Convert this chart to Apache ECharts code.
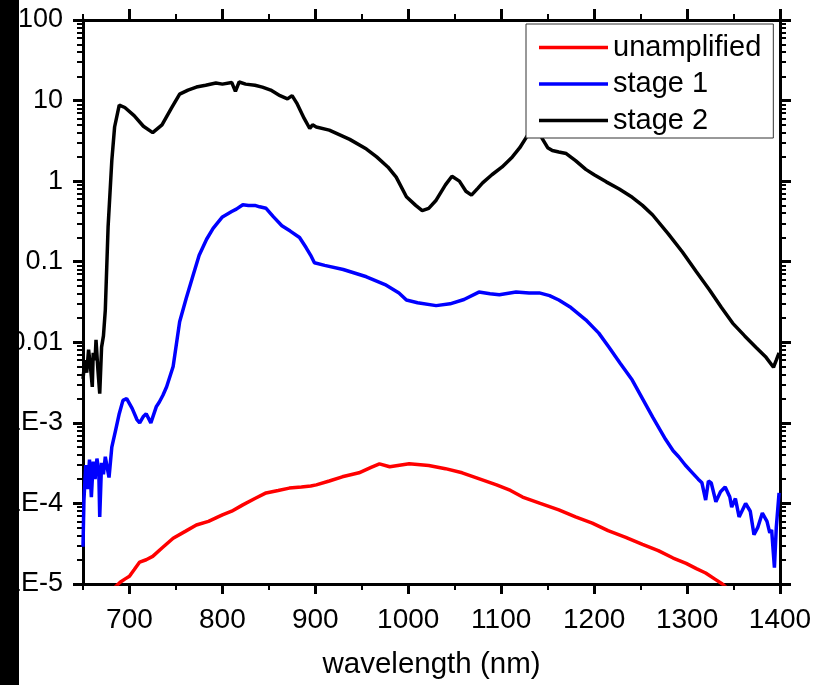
<!DOCTYPE html>
<html>
<head>
<meta charset="utf-8">
<script src="https://cdn.jsdelivr.net/npm/echarts@6/dist/echarts.min.js"></script>
<style>
html,body{margin:0;padding:0;background:#fff;}
#chart{width:831px;height:685px;}
</style>
</head>
<body>
<div id="chart"></div>
<script>
// ---- Data ----
const seriesNames = ['unamplified', 'stage 1', 'stage 2'];

const unampWl  = [684, 690, 695, 700, 705, 711, 718, 725, 735, 747, 760, 772, 785, 800, 810, 822, 835, 847, 860, 872, 885, 895, 901, 915, 929, 947, 960, 969, 980, 1001, 1022, 1040, 1058, 1075, 1095, 1110, 1123, 1142, 1162, 1180, 1198, 1215, 1234, 1252, 1269, 1285, 1299, 1310, 1320, 1330, 1338, 1345];
const unampVal = [9e-6, 1.05e-5, 1.15e-5, 1.25e-5, 1.5e-5, 1.87e-5, 2.0e-5, 2.2e-5, 2.8e-5, 3.7e-5, 4.5e-5, 5.4e-5, 6.0e-5, 7.2e-5, 8.0e-5, 9.6e-5, 1.15e-4, 1.35e-4, 1.45e-4, 1.55e-4, 1.6e-4, 1.65e-4, 1.7e-4, 1.9e-4, 2.14e-4, 2.4e-4, 2.8e-4, 3.1e-4, 2.85e-4, 3.1e-4, 2.95e-4, 2.7e-4, 2.4e-4, 2.05e-4, 1.7e-4, 1.45e-4, 1.2e-4, 1.0e-4, 8.3e-5, 6.8e-5, 5.7e-5, 4.6e-5, 3.8e-5, 3.1e-5, 2.6e-5, 2.1e-5, 1.8e-5, 1.55e-5, 1.37e-5, 1.15e-5, 1.0e-5, 8.5e-6];

const stage1Wl  = [650, 651, 653, 655, 657, 659, 661, 663, 665, 667, 668, 670, 672, 674, 676, 678, 681, 685, 689, 693, 697, 703, 708, 711, 715, 718, 723, 729, 732, 736, 740, 747, 754, 761, 768, 775, 783, 790, 800, 810, 815, 822, 828, 835, 840, 847, 855, 864, 873, 883, 890, 895, 899, 910, 930, 955, 975, 990, 998, 1010, 1030, 1045, 1060, 1076, 1088, 1098, 1116, 1130, 1141, 1152, 1162, 1175, 1191, 1205, 1216, 1228, 1241, 1252, 1263, 1277, 1285, 1291, 1298, 1305, 1312, 1316, 1320, 1323, 1326, 1331, 1336, 1341, 1346, 1348, 1352, 1356, 1363, 1368, 1372, 1376, 1381, 1386, 1389, 1391, 1394, 1396, 1399];
const stage1Val = [2.9e-5, 1.1e-4, 3.0e-4, 1.5e-4, 3.5e-4, 1.2e-4, 3.3e-4, 2.0e-4, 3.6e-4, 2.5e-4, 6.8e-5, 3.2e-4, 2.3e-4, 3.8e-4, 2.8e-4, 2.1e-4, 5.0e-4, 8.0e-4, 1.3e-3, 1.9e-3, 2.0e-3, 1.5e-3, 1.1e-3, 1.0e-3, 1.2e-3, 1.3e-3, 1.0e-3, 1.6e-3, 1.8e-3, 2.2e-3, 2.8e-3, 5.0e-3, 0.018, 0.035, 0.065, 0.12, 0.19, 0.26, 0.36, 0.42, 0.45, 0.51, 0.5, 0.5, 0.48, 0.46, 0.36, 0.28, 0.24, 0.2, 0.15, 0.12, 0.097, 0.09, 0.08, 0.065, 0.052, 0.041, 0.0335, 0.031, 0.0285, 0.03, 0.034, 0.042, 0.04, 0.039, 0.042, 0.041, 0.041, 0.038, 0.0335, 0.027, 0.019, 0.013, 0.0087, 0.0055, 0.0034, 0.002, 0.00118, 6.2e-4, 4.5e-4, 3.8e-4, 3.0e-4, 2.45e-4, 2.0e-4, 1.8e-4, 1.1e-4, 1.9e-4, 1.8e-4, 1.05e-4, 1.4e-4, 1.6e-4, 1.2e-4, 9e-5, 1.15e-4, 6.8e-5, 1.0e-4, 8e-5, 4.1e-5, 5.0e-5, 7.6e-5, 6.0e-5, 4.3e-5, 4.7e-5, 1.6e-5, 5e-5, 1.35e-4];

const stage2Wl  = [650, 652, 654, 656, 658, 660, 661, 663, 664, 666, 668, 670, 672, 674, 677, 681, 684, 689, 695, 705, 715, 725, 735, 745, 754, 763, 772, 782, 793, 800, 810, 814, 818, 825, 835, 843, 852, 862, 870, 875, 880, 888, 894, 897, 901, 915, 937, 955, 966, 978, 987, 998, 1008, 1015, 1022, 1030, 1040, 1047, 1055, 1062, 1068, 1075, 1080, 1090, 1101, 1112, 1120, 1127, 1133, 1138, 1144, 1150, 1155, 1162, 1170, 1180, 1191, 1200, 1213, 1227, 1241, 1252, 1263, 1280, 1295, 1310, 1324, 1337, 1349, 1362, 1374, 1385, 1393, 1396, 1399];
const stage2Val = [0.0035, 0.006, 0.0042, 0.0081, 0.005, 0.0028, 0.0074, 0.006, 0.0107, 0.0046, 0.0023, 0.0087, 0.012, 0.025, 0.27, 1.8, 4.7, 8.8, 8.2, 6.5, 4.8, 4.0, 5.0, 8.0, 12.0, 13.5, 14.7, 15.5, 16.5, 16.0, 16.8, 13.0, 17, 16, 15.5, 14.7, 13.5, 11.5, 10.5, 11.5, 9.3, 6.0, 4.5, 5.0, 4.7, 4.3, 3.3, 2.5, 2.0, 1.5, 1.12, 0.64, 0.5, 0.43, 0.46, 0.58, 0.9, 1.15, 1.0, 0.75, 0.67, 0.82, 0.95, 1.2, 1.5, 2.0, 2.6, 3.5, 4.4, 4.8, 3.4, 2.6, 2.4, 2.3, 2.2, 1.8, 1.4, 1.2, 0.98, 0.8, 0.63, 0.5, 0.38, 0.22, 0.132, 0.075, 0.045, 0.027, 0.0173, 0.012, 0.0087, 0.0065, 0.0049, 0.006, 0.0074];

const xMajorTicks = [700, 800, 900, 1000, 1100, 1200, 1300, 1400];
const xMinorTicks = [650, 750, 850, 950, 1050, 1150, 1250, 1350];
const yMajorTicks = [1e-5, 1e-4, 1e-3, 1e-2, 1e-1, 1, 10, 100];
const yTickLabels = ['1E-5', '1E-4', '1E-3', '0.01', '0.1', '1', '10', '100'];
const yMinorMultipliers = [2, 3, 4, 5, 6, 7, 8, 9];

// ---- Build ----
const yMinorTicks = [];
yMajorTicks.slice(0, -1).forEach(d => yMinorMultipliers.forEach(m => yMinorTicks.push(d * m)));

const zip = (a, b) => a.map((x, i) => [x, b[i]]);
const FONT = 'Liberation Sans, Arial, Helvetica, sans-serif';

const chart = echarts.init(document.getElementById('chart'), null, {renderer: 'canvas'});

function xAx(pos, ticks, len, showLine, showLabel) {
  return {
    type: 'value', position: pos, min: 650, max: 1400,
    splitLine: {show: false},
    axisLine: {show: showLine, onZero: false, lineStyle: {color: '#000', width: 3}},
    axisTick: {show: true, inside: false, length: len, customValues: ticks, lineStyle: {color: '#000', width: len > 8 ? 3 : 2}},
    axisLabel: showLabel ? {show: true, customValues: xMajorTicks, color: '#000', fontSize: 28, fontFamily: FONT, margin: 22,
      formatter: v => String(Math.round(v))} : {show: false},
    name: showLabel ? 'wavelength (nm)' : '',
    nameLocation: 'middle', nameGap: 66,
    nameTextStyle: {color: '#000', fontSize: 29.5, fontFamily: FONT}
  };
}
function yAx(pos, ticks, len, showLine, showLabel) {
  return {
    type: 'log', logBase: 10, position: pos, min: 1e-5, max: 100,
    splitLine: {show: false},
    axisLine: {show: showLine, onZero: false, lineStyle: {color: '#000', width: 3}},
    axisTick: {show: true, inside: false, length: len, customValues: ticks, lineStyle: {color: '#000', width: len > 8 ? 3 : 2}},
    axisLabel: showLabel ? {
      show: true, customValues: yMajorTicks, color: '#000', fontSize: 27, fontFamily: FONT, margin: 20,
      formatter: v => yTickLabels[Math.round(Math.log10(v)) + 5]
    } : {show: false}
  };
}

const colors = ['#ff0000', '#0000ff', '#000000'];
const widths = [3.5, 3.5, 3.5];
const dataSets = [zip(unampWl, unampVal), zip(stage1Wl, stage1Val), zip(stage2Wl, stage2Val)];

chart.setOption({
  animation: false,
  backgroundColor: '#fff',
  grid: {left: 83, top: 20, width: 697, height: 564, containLabel: false},
  xAxis: [
    xAx('bottom', xMajorTicks, 10, true, true),
    xAx('bottom', xMinorTicks, 6, false, false),
    xAx('top', xMajorTicks, 11, true, false),
    xAx('top', xMinorTicks, 6, false, false)
  ],
  yAxis: [
    yAx('left', yMajorTicks, 10, true, true),
    yAx('left', yMinorTicks, 6, false, false),
    yAx('right', yMajorTicks, 11, true, false),
    yAx('right', yMinorTicks, 6, false, false)
  ],
  legend: {
    orient: 'vertical', left: 526, top: 24,
    data: seriesNames.map(n => ({name: n, icon: 'rect'})),
    itemWidth: 69, itemHeight: 3.5, itemGap: 7.5,
    backgroundColor: '#fff', borderColor: '#333', borderWidth: 1,
    padding: [9, 12, 3, 13],
    textStyle: {color: '#000', fontSize: 29, fontFamily: FONT},
    z: 10
  },
  series: seriesNames.map((n, i) => ({
    name: n, type: 'line', xAxisIndex: 0, yAxisIndex: 0,
    data: dataSets[i], showSymbol: false, symbol: 'none', clip: true,
    color: colors[i],
    itemStyle: {color: colors[i]},
    lineStyle: {color: colors[i], width: widths[i]},
    z: 2 + i
  })),
  graphic: [{
    type: 'rect', left: 0, top: 0, z: 100,
    shape: {x: 0, y: 0, width: 19, height: 685},
    style: {fill: '#000'}
  }]
});
</script>
</body>
</html>
